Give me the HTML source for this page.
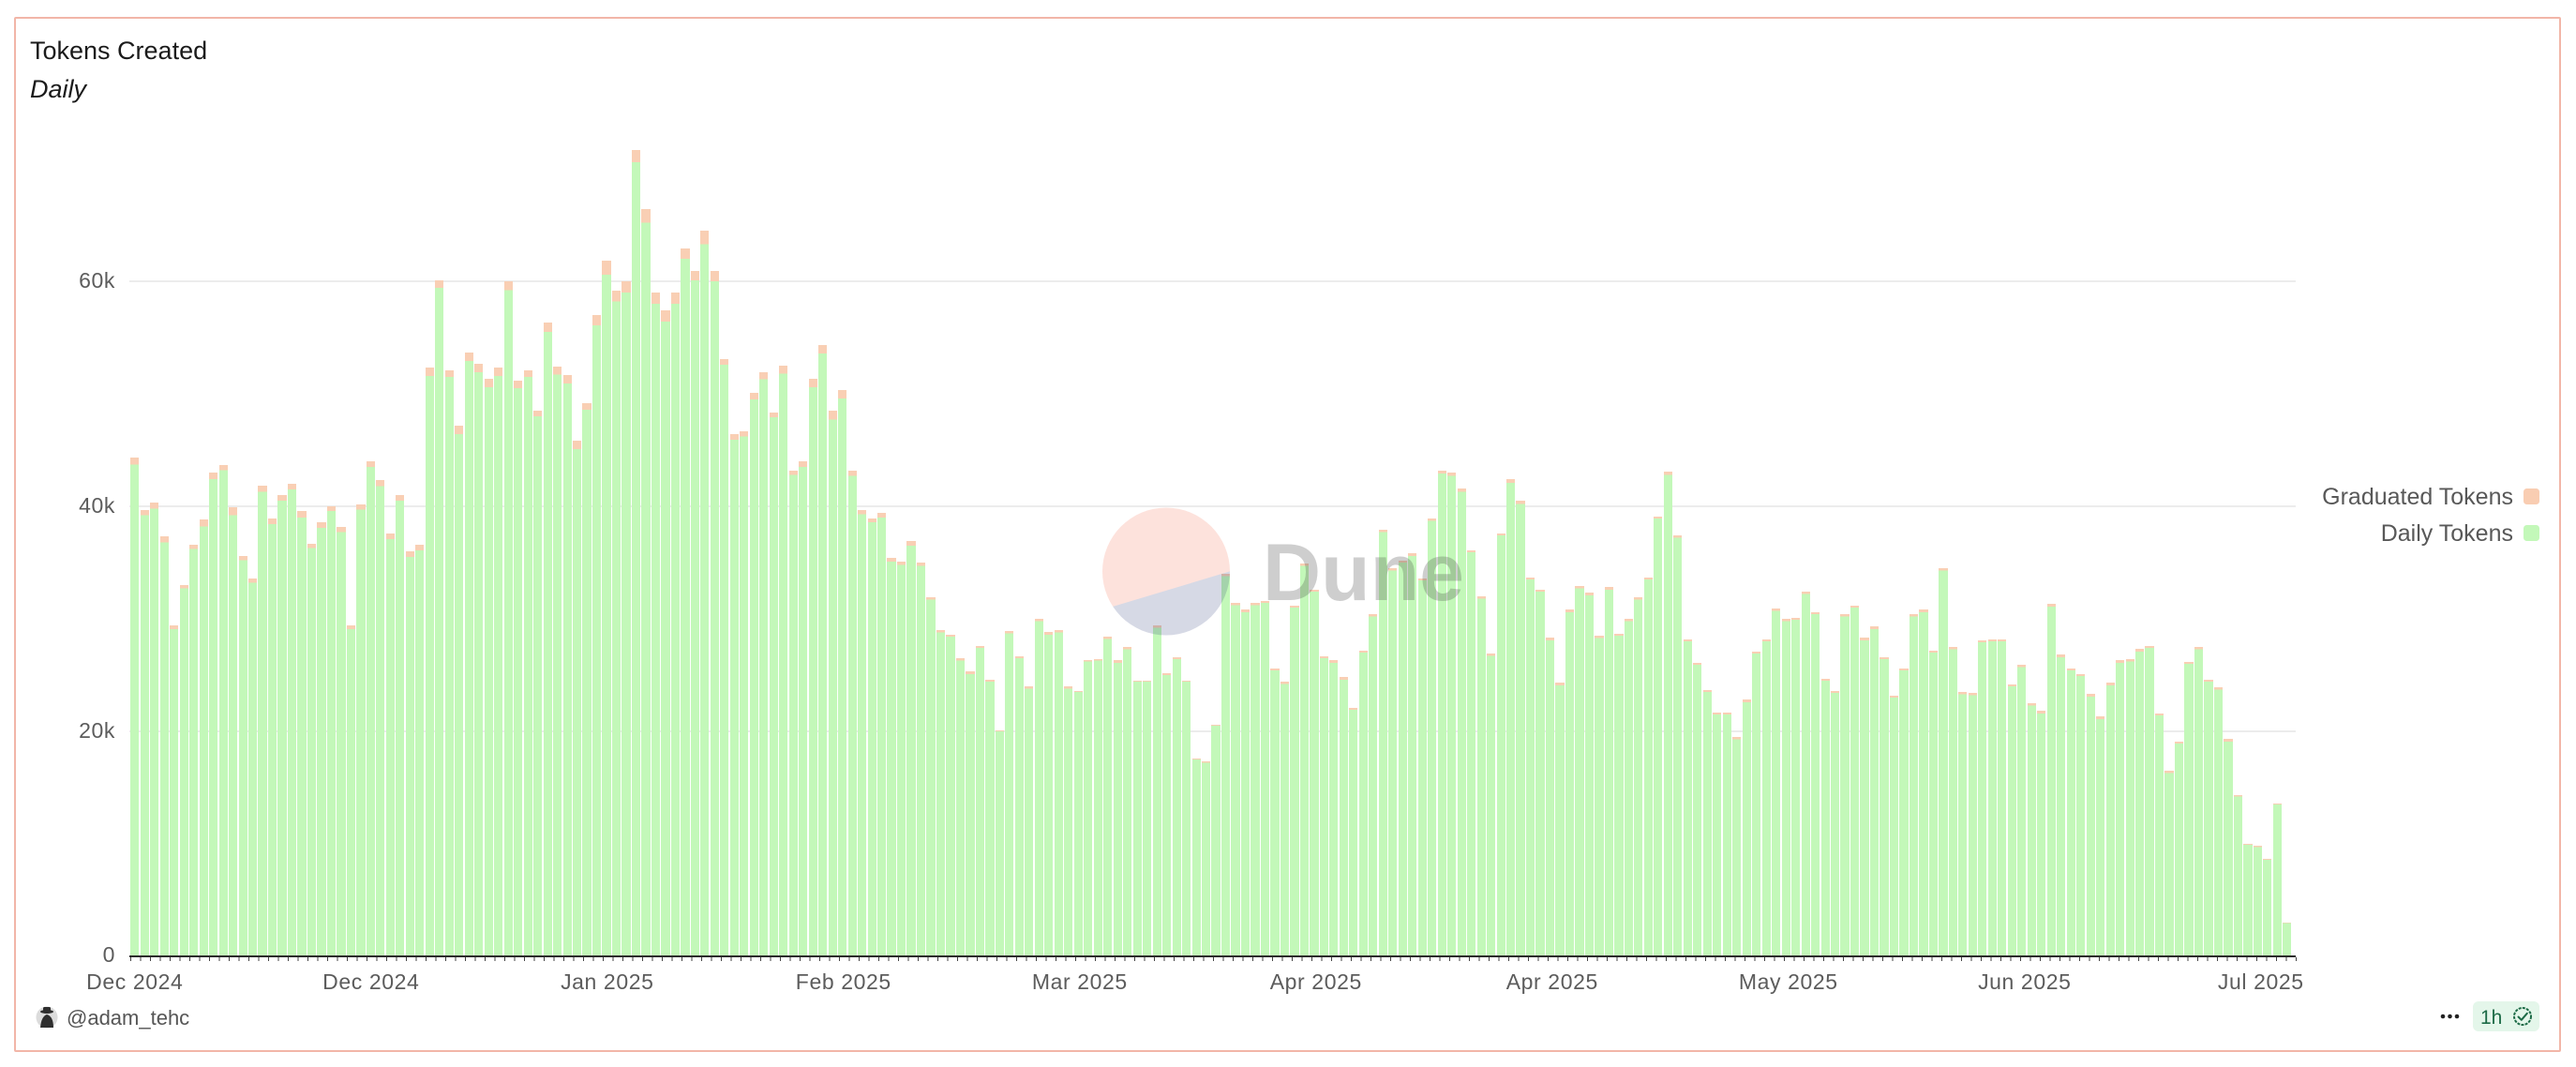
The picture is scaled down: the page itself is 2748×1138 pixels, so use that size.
<!DOCTYPE html>
<html>
<head>
<meta charset="utf-8">
<style>
html,body{margin:0;padding:0;background:#fff;}
body{width:2748px;height:1138px;position:relative;overflow:hidden;font-family:"Liberation Sans",Arial,sans-serif;}
#frame{position:absolute;left:15px;top:18px;width:2717px;height:1104px;border:2px solid #f2b6a8;box-sizing:border-box;border-radius:2px;}
svg{position:absolute;left:0;top:0;}
#bars{position:absolute;left:139.2px;top:140px;width:2320px;height:880px;display:flex;align-items:flex-end;}
#bars b{flex:0 0 9.2px;margin-right:1.3px;height:calc(var(--t)*12px);background:linear-gradient(to top,#c3f8b9 calc((var(--t) - var(--c,0.2))*12px),#f9cfb4 0);}
#axis{position:absolute;left:138px;top:1019.3px;width:2311px;height:1.6px;background:#2b2b2b;}
#ticks{position:absolute;left:138.5px;top:1020.5px;width:2312px;height:4px;background:repeating-linear-gradient(to right,#444 0 1px,transparent 1px 10.5px);}
</style>
</head>
<body>
<div id="frame"></div>

<svg width="2748" height="1138" viewBox="0 0 2748 1138">
  <g stroke="#e6e6e6" stroke-width="1.5">
    <line x1="138" y1="300" x2="2449" y2="300"/>
    <line x1="138" y1="540" x2="2449" y2="540"/>
    <line x1="138" y1="780" x2="2449" y2="780"/>
  </g>
</svg>

<div id="bars">
<b style="--t:44.3;--c:.6"></b><b style="--t:39.7;--c:.5"></b><b style="--t:40.3;--c:.5"></b><b style="--t:37.3;--c:.5"></b><b style="--t:29.4;--c:.3"></b><b style="--t:33.0;--c:.3"></b><b style="--t:36.6;--c:.4"></b><b style="--t:38.8;--c:.6"></b><b style="--t:43.0;--c:.6"></b><b style="--t:43.7;--c:.5"></b>
<b style="--t:39.9;--c:.7"></b><b style="--t:35.6;--c:.4"></b><b style="--t:33.6;--c:.4"></b><b style="--t:41.8;--c:.5"></b><b style="--t:38.9;--c:.5"></b><b style="--t:41.0;--c:.5"></b><b style="--t:42.0;--c:.5"></b><b style="--t:39.6;--c:.6"></b><b style="--t:36.7;--c:.4"></b><b style="--t:38.6;--c:.5"></b>
<b style="--t:40.0;--c:.4"></b><b style="--t:38.2;--c:.5"></b><b style="--t:29.4;--c:.3"></b><b style="--t:40.2;--c:.5"></b><b style="--t:44.0;--c:.5"></b><b style="--t:42.3;--c:.5"></b><b style="--t:37.6;--c:.5"></b><b style="--t:41.0;--c:.5"></b><b style="--t:36.0;--c:.5"></b><b style="--t:36.6;--c:.5"></b>
<b style="--t:52.3;--c:.7"></b><b style="--t:60.1;--c:.7"></b><b style="--t:52.1;--c:.6"></b><b style="--t:47.2;--c:.8"></b><b style="--t:53.7;--c:.8"></b><b style="--t:52.7;--c:.8"></b><b style="--t:51.3;--c:.7"></b><b style="--t:52.3;--c:.7"></b><b style="--t:60.0;--c:.8"></b><b style="--t:51.2;--c:.7"></b>
<b style="--t:52.1;--c:.6"></b><b style="--t:48.5;--c:.5"></b><b style="--t:56.3;--c:.8"></b><b style="--t:52.4;--c:.7"></b><b style="--t:51.7;--c:.8"></b><b style="--t:45.8;--c:.7"></b><b style="--t:49.2;--c:.6"></b><b style="--t:57.0;--c:.9"></b><b style="--t:61.8;--c:1.2"></b><b style="--t:59.2;--c:1.0"></b>
<b style="--t:60.0;--c:1.0"></b><b style="--t:71.7;--c:1.1"></b><b style="--t:66.4;--c:1.2"></b><b style="--t:59.0;--c:1.0"></b><b style="--t:57.4;--c:1.0"></b><b style="--t:59.0;--c:1.0"></b><b style="--t:62.9;--c:.9"></b><b style="--t:60.9;--c:.8"></b><b style="--t:64.5;--c:1.2"></b><b style="--t:60.9;--c:.9"></b>
<b style="--t:53.1;--c:.5"></b><b style="--t:46.4;--c:.5"></b><b style="--t:46.7;--c:.5"></b><b style="--t:50.1;--c:.6"></b><b style="--t:51.9;--c:.6"></b><b style="--t:48.3;--c:.4"></b><b style="--t:52.5;--c:.7"></b><b style="--t:43.2;--c:.4"></b><b style="--t:44.0;--c:.5"></b><b style="--t:51.3;--c:.7"></b>
<b style="--t:54.3;--c:.7"></b><b style="--t:48.5;--c:.8"></b><b style="--t:50.3;--c:.7"></b><b style="--t:43.2;--c:.5"></b><b style="--t:39.7;--c:.4"></b><b style="--t:38.9;--c:.3"></b><b style="--t:39.4;--c:.4"></b><b style="--t:35.4;--c:.3"></b><b style="--t:35.1;--c:.3"></b><b style="--t:36.9;--c:.4"></b>
<b style="--t:35.0;--c:.3"></b><b style="--t:31.9"></b><b style="--t:29.0"></b><b style="--t:28.6"></b><b style="--t:26.5"></b><b style="--t:25.3"></b><b style="--t:27.6"></b><b style="--t:24.6"></b><b style="--t:20.1;--c:.1"></b><b style="--t:28.9"></b>
<b style="--t:26.7"></b><b style="--t:24.0"></b><b style="--t:30.0"></b><b style="--t:28.8"></b><b style="--t:29.0"></b><b style="--t:24.0"></b><b style="--t:23.6;--c:.1"></b><b style="--t:26.3;--c:.1"></b><b style="--t:26.4;--c:.1"></b><b style="--t:28.4"></b>
<b style="--t:26.3"></b><b style="--t:27.5"></b><b style="--t:24.5;--c:.1"></b><b style="--t:24.5;--c:.1"></b><b style="--t:29.4"></b><b style="--t:25.2"></b><b style="--t:26.6"></b><b style="--t:24.5;--c:.1"></b><b style="--t:17.6;--c:.1"></b><b style="--t:17.3;--c:.1"></b>
<b style="--t:20.6;--c:.1"></b><b style="--t:34.0"></b><b style="--t:31.4"></b><b style="--t:30.8"></b><b style="--t:31.4"></b><b style="--t:31.6"></b><b style="--t:25.6"></b><b style="--t:24.4"></b><b style="--t:31.2"></b><b style="--t:34.9"></b>
<b style="--t:32.6"></b><b style="--t:26.7"></b><b style="--t:26.3"></b><b style="--t:24.8"></b><b style="--t:22.1"></b><b style="--t:27.2"></b><b style="--t:30.4"></b><b style="--t:37.9"></b><b style="--t:34.5"></b><b style="--t:35.2"></b>
<b style="--t:35.8"></b><b style="--t:33.6"></b><b style="--t:38.9"></b><b style="--t:43.2;--c:.3"></b><b style="--t:43.0;--c:.3"></b><b style="--t:41.6;--c:.3"></b><b style="--t:36.1"></b><b style="--t:32.0"></b><b style="--t:26.9"></b><b style="--t:37.6"></b>
<b style="--t:42.4;--c:.3"></b><b style="--t:40.5;--c:.3"></b><b style="--t:33.7"></b><b style="--t:32.6"></b><b style="--t:28.3"></b><b style="--t:24.3"></b><b style="--t:30.8"></b><b style="--t:32.9"></b><b style="--t:32.3"></b><b style="--t:28.5"></b>
<b style="--t:32.8"></b><b style="--t:28.7"></b><b style="--t:30.0"></b><b style="--t:31.9"></b><b style="--t:33.7"></b><b style="--t:39.1"></b><b style="--t:43.1;--c:.3"></b><b style="--t:37.4"></b><b style="--t:28.2"></b><b style="--t:26.1"></b>
<b style="--t:23.7"></b><b style="--t:21.7"></b><b style="--t:21.7"></b><b style="--t:19.5"></b><b style="--t:22.8"></b><b style="--t:27.1"></b><b style="--t:28.2"></b><b style="--t:30.9"></b><b style="--t:30.0"></b><b style="--t:30.1"></b>
<b style="--t:32.4"></b><b style="--t:30.6"></b><b style="--t:24.7"></b><b style="--t:23.6"></b><b style="--t:30.4"></b><b style="--t:31.2"></b><b style="--t:28.3"></b><b style="--t:29.3"></b><b style="--t:26.6"></b><b style="--t:23.2"></b>
<b style="--t:25.6"></b><b style="--t:30.4"></b><b style="--t:30.8"></b><b style="--t:27.2"></b><b style="--t:34.5"></b><b style="--t:27.5"></b><b style="--t:23.5"></b><b style="--t:23.4"></b><b style="--t:28.1"></b><b style="--t:28.2"></b>
<b style="--t:28.2"></b><b style="--t:24.2"></b><b style="--t:25.9"></b><b style="--t:22.5"></b><b style="--t:21.8"></b><b style="--t:31.3"></b><b style="--t:26.8"></b><b style="--t:25.6"></b><b style="--t:25.1"></b><b style="--t:23.3"></b>
<b style="--t:21.3"></b><b style="--t:24.3"></b><b style="--t:26.3"></b><b style="--t:26.4"></b><b style="--t:27.3"></b><b style="--t:27.6"></b><b style="--t:21.6"></b><b style="--t:16.5"></b><b style="--t:19.1"></b><b style="--t:26.2"></b>
<b style="--t:27.5"></b><b style="--t:24.6"></b><b style="--t:23.9"></b><b style="--t:19.3"></b><b style="--t:14.3;--c:.1"></b><b style="--t:10.0;--c:.1"></b><b style="--t:9.8;--c:.1"></b><b style="--t:8.7;--c:.1"></b><b style="--t:13.6;--c:.1"></b><b style="--t:3.0;--c:.05"></b>
</div>

<div id="axis"></div>
<div id="ticks"></div>

<svg width="2748" height="1138" viewBox="0 0 2748 1138">
  <defs>
    <clipPath id="cc"><circle cx="1244" cy="609.5" r="68"/></clipPath>
  </defs>

  <!-- Title -->
  <text x="32" y="63" font-family="Liberation Sans, Arial, sans-serif" font-size="27" fill="#1b1b1b">Tokens Created</text>
  <text x="32" y="104" font-family="Liberation Sans, Arial, sans-serif" font-size="27" font-style="italic" fill="#1b1b1b">Daily</text>

  <!-- Y axis labels -->
  <g font-family="Liberation Sans, Arial, sans-serif" font-size="23" fill="#5c5c5c" text-anchor="end" letter-spacing="0.6">
    <text x="123" y="307">60k</text>
    <text x="123" y="547">40k</text>
    <text x="123" y="787">20k</text>
    <text x="123" y="1026">0</text>
  </g>

  <!-- X axis labels -->
  <g font-family="Liberation Sans, Arial, sans-serif" font-size="23" fill="#5c5c5c" text-anchor="middle" letter-spacing="0.6">
    <text x="143.8" y="1055">Dec 2024</text>
    <text x="395.8" y="1055">Dec 2024</text>
    <text x="647.8" y="1055">Jan 2025</text>
    <text x="899.8" y="1055">Feb 2025</text>
    <text x="1151.8" y="1055">Mar 2025</text>
    <text x="1403.8" y="1055">Apr 2025</text>
    <text x="1655.8" y="1055">Apr 2025</text>
    <text x="1907.8" y="1055">May 2025</text>
    <text x="2159.8" y="1055">Jun 2025</text>
    <text x="2411.8" y="1055">Jul 2025</text>
  </g>

  <!-- Legend -->
  <g font-family="Liberation Sans, Arial, sans-serif" font-size="25" fill="#585858" text-anchor="end">
    <text x="2681" y="538">Graduated Tokens</text>
    <text x="2681" y="577">Daily Tokens</text>
  </g>
  <rect x="2692" y="521" width="17" height="17" rx="3.5" fill="#f9cdb2"/>
  <rect x="2692" y="560" width="17" height="17" rx="3.5" fill="#c3f8b9"/>

  <!-- Watermark -->
  <g clip-path="url(#cc)">
    <polygon points="1170,652.1 1320,607 1320,530 1170,530" fill="#f7704f" fill-opacity="0.2"/>
    <polygon points="1170,652.1 1320,607 1320,690 1170,690" fill="#1e2a6e" fill-opacity="0.18"/>
  </g>
  <text x="1347" y="640" font-family="Liberation Sans, Arial, sans-serif" font-size="86" font-weight="bold" fill="#3c3c3c" fill-opacity="0.25">Dune</text>

  <!-- Footer left -->
  <circle cx="50" cy="1085" r="11.5" fill="#dcdcdc"/>
  <g fill="#2e2e2e">
    <ellipse cx="50" cy="1079" rx="7" ry="2"/>
    <rect x="46" y="1074" width="8" height="5" rx="1.5"/>
    <path d="M43 1096 Q44 1084 50 1082 Q57 1084 57 1096 Z"/>
  </g>
  <text x="71" y="1093" font-family="Liberation Sans, Arial, sans-serif" font-size="22" fill="#555">@adam_tehc</text>

  <!-- Footer right -->
  <g fill="#222">
    <circle cx="2606" cy="1084" r="2.3"/>
    <circle cx="2613.5" cy="1084" r="2.3"/>
    <circle cx="2621" cy="1084" r="2.3"/>
  </g>
  <rect x="2638" y="1068" width="71" height="32" rx="6" fill="#e4f6ea"/>
  <text x="2646" y="1092" font-family="Liberation Sans, Arial, sans-serif" font-size="21" fill="#1d6b47">1h</text>
  <circle cx="2691" cy="1084" r="9" fill="none" stroke="#1d6b47" stroke-width="2" stroke-dasharray="3 1.2"/>
  <polyline points="2686.5,1084.5 2689.8,1087.8 2695.8,1080.8" fill="none" stroke="#1d6b47" stroke-width="2" stroke-linecap="round" stroke-linejoin="round"/>
</svg>
</body>
</html>
